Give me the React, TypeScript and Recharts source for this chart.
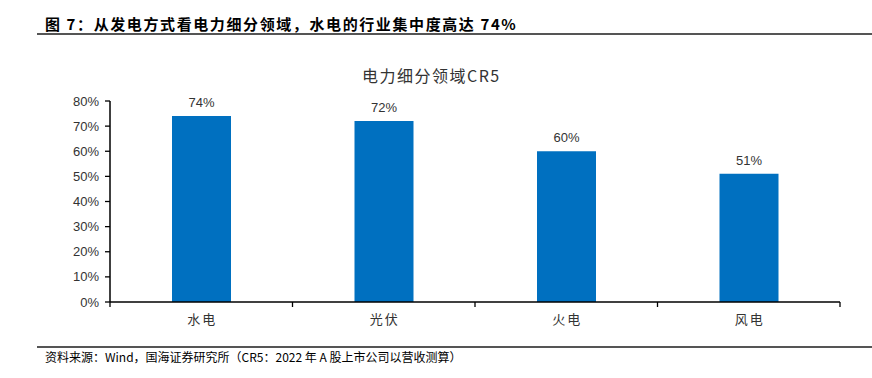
import React from "react";
import { BarChart, Bar, XAxis, YAxis, LabelList } from "recharts";

const categories = ["水电", "光伏", "火电", "风电"];
const cr5Values = [74, 72, 60, 51];
const yTicks = [0, 10, 20, 30, 40, 50, 60, 70, 80];

const data = categories.map((name, i) => ({ name, value: cr5Values[i] }));

const W = 872;
const H = 378;
const PLOT_LEFT = 110;
const PLOT_RIGHT = 840;
const BAND = (PLOT_RIGHT - PLOT_LEFT) / categories.length;

const XTick = (props: any) => {
  const { x, y, payload, index } = props;
  return (
    <g>
      <line x1={x + BAND / 2} y1={y - 8} x2={x + BAND / 2} y2={y - 3} stroke="#000" strokeWidth={1.3} />
      {index === 0 && (
        <line x1={x - BAND / 2} y1={y - 8} x2={x - BAND / 2} y2={y - 3} stroke="#000" strokeWidth={1.3} />
      )}
      <text
        x={x + 1}
        y={y + 14}
        textAnchor="middle"
        fontSize={13}
        letterSpacing={2}
        fill="#333"
        fontFamily="'Noto Sans CJK SC', sans-serif"
      >
        {payload.value}
      </text>
    </g>
  );
};

export default function App() {
  return (
    <div
      style={{
        position: "absolute",
        left: 0,
        top: 0,
        width: W,
        height: H,
        background: "#fff",
        overflow: "hidden",
      }}
    >
      <div
        style={{
          position: "absolute",
          left: 45,
          top: 14,
          fontSize: 15,
          fontWeight: "bold",
          letterSpacing: 1.6,
          fontFamily: "'Noto Sans CJK SC', sans-serif",
          color: "#000",
          lineHeight: "20px",
          whiteSpace: "nowrap",
        }}
      >
        图 7：从发电方式看电力细分领域，水电的行业集中度高达 74%
      </div>
      <div style={{ position: "absolute", left: 37, top: 33, width: W - 37, height: 1.5, background: "#555" }} />
      <div
        style={{
          position: "absolute",
          left: 362,
          top: 64,
          fontSize: 16,
          letterSpacing: 1.5,
          fontFamily: "'Noto Sans CJK SC', sans-serif",
          color: "#333",
          lineHeight: "22px",
          whiteSpace: "nowrap",
        }}
      >
        电力细分领域CR5
      </div>
      <div style={{ position: "absolute", left: 37, top: 346, width: W - 37, height: 1.5, background: "#555" }} />
      <div
        style={{
          position: "absolute",
          left: 45,
          top: 349,
          fontSize: 12,
          fontFamily: "'Noto Sans CJK SC', sans-serif",
          color: "#000",
          lineHeight: "16px",
          whiteSpace: "nowrap",
        }}
      >
        资料来源：Wind，国海证券研究所（CR5：2022 年 A 股上市公司以营收测算）
      </div>
      <div style={{ position: "absolute", left: 0, top: 0 }}>
        <BarChart
          width={W}
          height={H}
          data={data}
          margin={{ top: 101, right: W - PLOT_RIGHT, bottom: 46, left: 50 }}
        >
          <XAxis
            dataKey="name"
            tickLine={false}
            axisLine={{ stroke: "#000", strokeWidth: 1.5 }}
            tick={<XTick />}
            height={30}
            interval={0}
          />
          <YAxis
            width={60}
            domain={[0, 80]}
            ticks={yTicks}
            interval={0}
            tickFormatter={(v: number) => `${v}%`}
            axisLine={{ stroke: "#000", strokeWidth: 1.5 }}
            tickLine={{ stroke: "#000", strokeWidth: 1.3 }}
            tickSize={5}
            tickMargin={6}
            tick={{ fontSize: 13, fill: "#333", fontFamily: "'Liberation Sans', Arial, sans-serif" }}
          />
          <Bar dataKey="value" fill="#0070C0" barSize={59} isAnimationActive={false}>
            <LabelList
              dataKey="value"
              position="top"
              offset={9}
              formatter={(v: number) => `${v}%`}
              style={{ fontSize: 13, fill: "#333", fontFamily: "'Liberation Sans', Arial, sans-serif" }}
            />
          </Bar>
        </BarChart>
      </div>
    </div>
  );
}
